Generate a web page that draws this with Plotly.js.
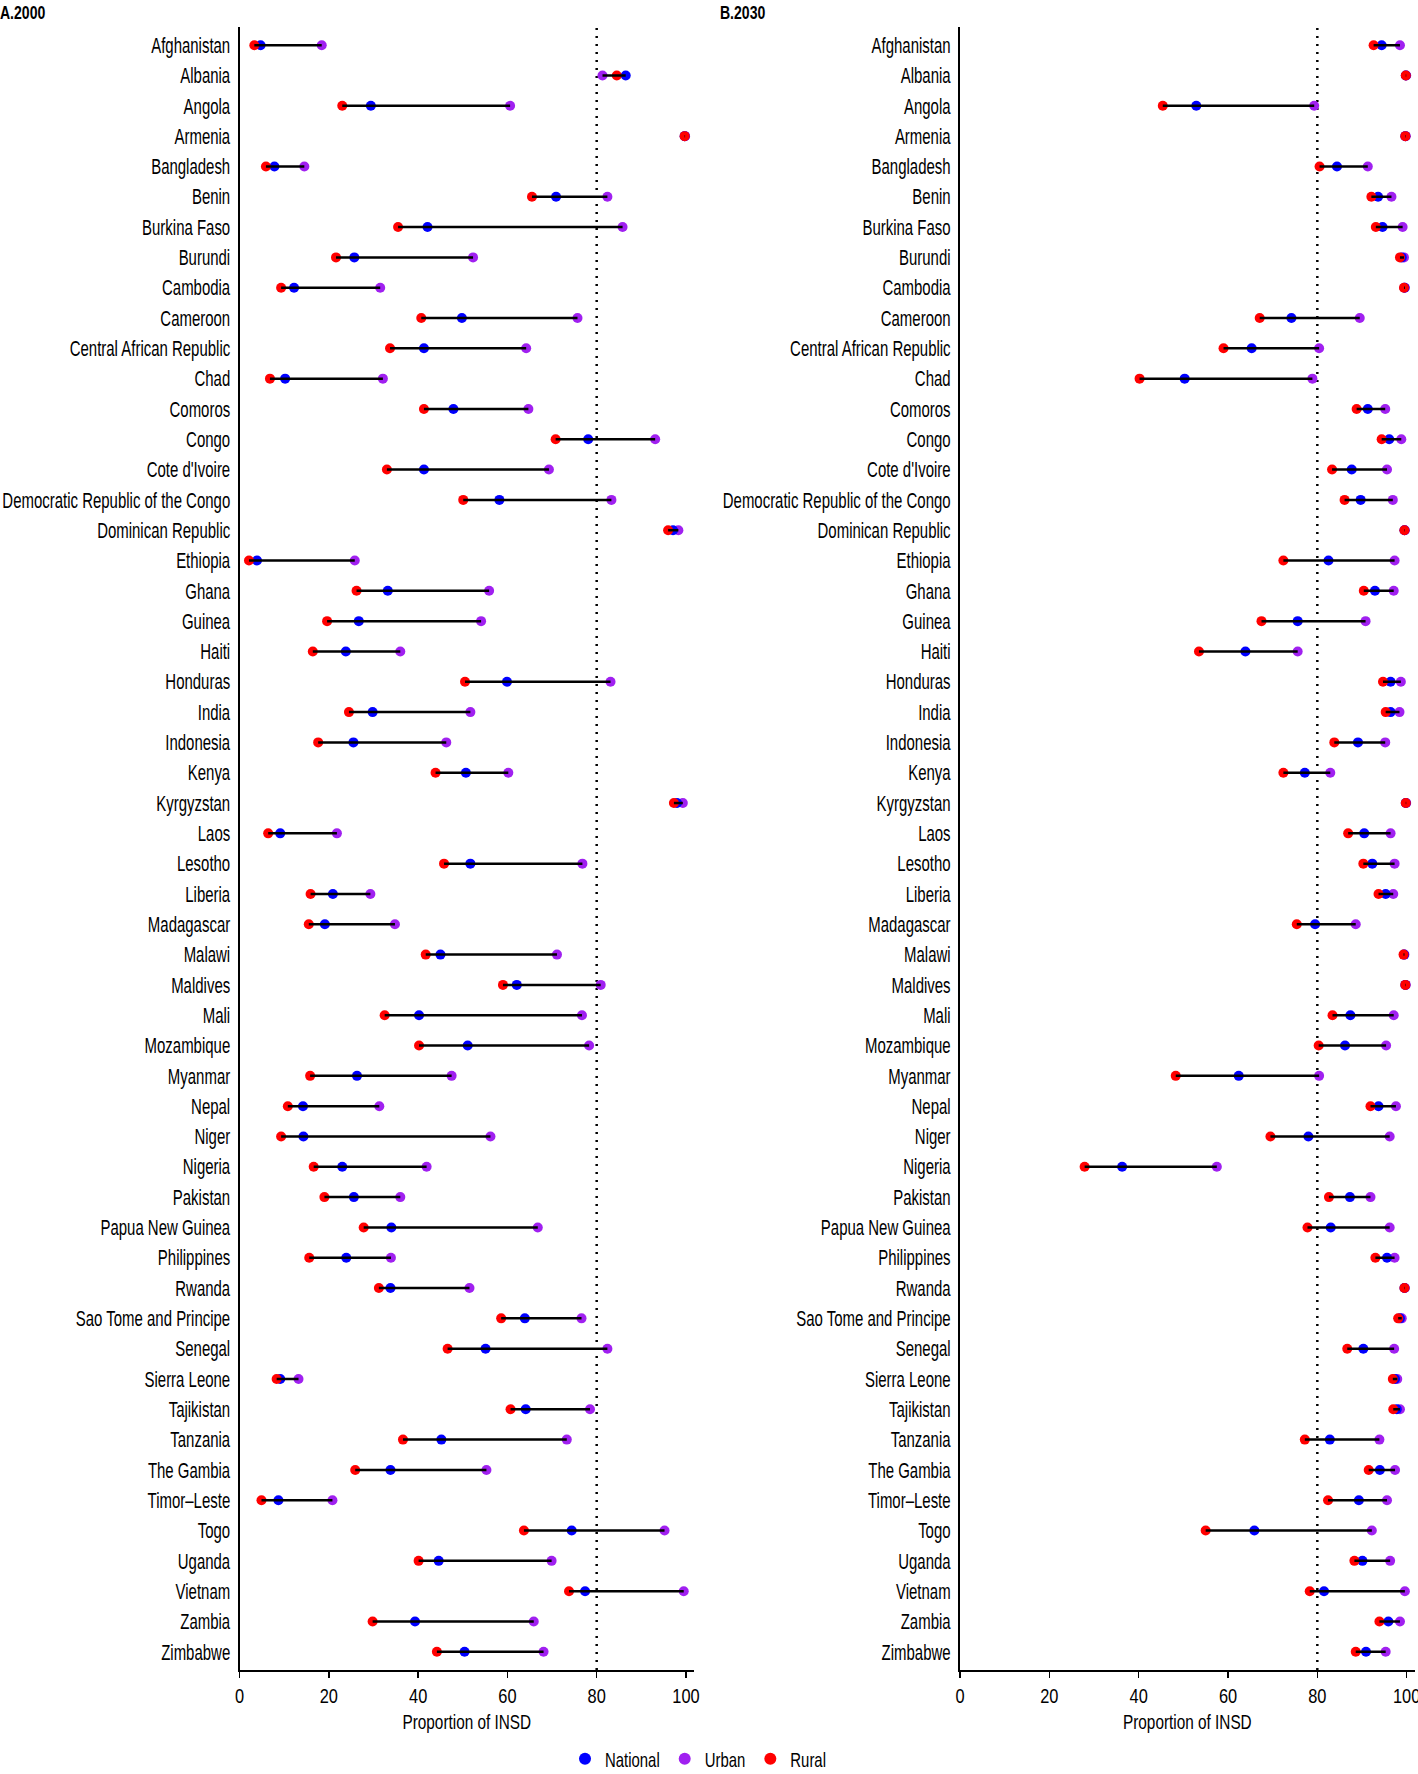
<!DOCTYPE html>
<html>
<head>
<meta charset="utf-8">
<script src="https://cdn.plot.ly/plotly-3.0.1.min.js"></script>
<style>html,body{margin:0;padding:0;background:#fff;}#chart{width:1418px;height:1774px;}</style>
</head>
<body>
<div id="chart"></div>
<script>
const countries = ["Afghanistan","Albania","Angola","Armenia","Bangladesh","Benin","Burkina Faso","Burundi","Cambodia","Cameroon","Central African Republic","Chad","Comoros","Congo","Cote d'Ivoire","Democratic Republic of the Congo","Dominican Republic","Ethiopia","Ghana","Guinea","Haiti","Honduras","India","Indonesia","Kenya","Kyrgyzstan","Laos","Lesotho","Liberia","Madagascar","Malawi","Maldives","Mali","Mozambique","Myanmar","Nepal","Niger","Nigeria","Pakistan","Papua New Guinea","Philippines","Rwanda","Sao Tome and Principe","Senegal","Sierra Leone","Tajikistan","Tanzania","The Gambia","Timor\u2013Leste","Togo","Uganda","Vietnam","Zambia","Zimbabwe"];

const nat2000 = [4.7,86.5,29.4,99.7,7.8,70.9,42.1,25.7,12.2,49.8,41.3,10.2,47.9,78.1,41.3,58.2,97.1,3.9,33.2,26.7,23.8,59.9,29.8,25.5,50.7,98.0,9.1,51.7,20.9,19.1,45.0,62.1,40.2,51.1,26.3,14.2,14.3,23.0,25.6,34.0,23.9,33.8,63.9,55.1,9.1,64.1,45.2,33.8,8.7,74.4,44.6,77.4,39.3,50.4];
const urb2000 = [18.4,81.3,60.6,99.8,14.5,82.4,85.8,52.3,31.5,75.7,64.2,32.1,64.7,93.1,69.3,83.3,98.3,25.8,55.9,54.1,36.0,83.1,51.7,46.3,60.2,99.3,21.8,76.8,29.3,34.8,71.1,80.9,76.7,78.3,47.5,31.3,56.2,41.9,36.0,66.8,33.9,51.5,76.6,82.4,13.2,78.5,73.3,55.3,20.8,95.2,69.9,99.5,65.9,68.1];
const rur2000 = [3.3,84.5,23.0,99.7,5.9,65.5,35.5,21.6,9.3,40.7,33.7,6.8,41.3,70.8,33.0,50.1,96.0,2.1,26.2,19.6,16.4,50.5,24.5,17.6,43.9,97.3,6.4,45.8,15.9,15.5,41.7,59.0,32.5,40.2,15.8,10.8,9.3,16.6,19.0,27.8,15.6,31.2,58.6,46.6,8.3,60.7,36.6,25.9,4.9,63.7,40.1,73.8,29.8,44.2];

const nat2030 = [94.4,99.8,52.9,99.7,84.4,93.6,94.6,98.9,99.5,74.2,65.3,50.3,91.3,96.1,87.7,89.7,99.5,82.5,92.9,75.6,63.9,96.4,96.4,89.1,77.2,99.8,90.5,92.3,95.3,79.5,99.4,99.7,87.4,86.2,62.4,93.7,78.0,36.3,87.3,83.0,95.6,99.5,98.5,90.3,97.4,97.8,82.8,94.0,89.3,65.9,90.1,81.5,95.9,90.9];
const urb2030 = [98.5,99.9,79.3,99.8,91.3,96.6,99.1,99.4,99.6,89.5,80.4,78.9,95.2,98.8,95.6,96.9,99.6,97.3,97.1,90.8,75.6,98.7,98.4,95.2,82.9,99.9,96.4,97.3,97.0,88.6,99.5,99.8,97.1,95.4,80.4,97.6,96.2,57.5,91.9,96.2,97.3,99.6,98.9,97.2,97.9,98.5,93.9,97.4,95.6,92.2,96.3,99.6,98.5,95.3];
const rur2030 = [92.6,99.8,45.4,99.7,80.5,92.1,93.1,98.5,99.4,67.1,59.0,40.2,88.8,94.4,83.3,86.1,99.5,72.4,90.4,67.5,53.5,94.7,95.3,83.8,72.4,99.8,86.9,90.3,93.7,75.4,99.3,99.7,83.4,80.3,48.3,91.9,69.5,27.9,82.6,77.8,93.0,99.5,98.1,86.7,96.9,97.0,77.2,91.5,82.4,55.0,88.3,78.3,93.9,88.6];

const xTicks = [0,20,40,60,80,100];
const target = 80;
const panelTitles = ["A.2000","B.2030"];
const xTitle = "Proportion of INSD";

const FONT = '"Liberation Sans","Helvetica","Arial",sans-serif';
const COL = {national:'#0000FF', urban:'#A020F0', rural:'#FF0000'};

function segs(a,b,c){
  const xs=[], ys=[];
  countries.forEach((cn,i)=>{
    const v=[a[i],b[i],c[i]];
    xs.push(Math.min(...v), Math.max(...v), null);
    ys.push(cn, cn, null);
  });
  return {xs, ys};
}

const traces = [];
function panel(nat, urb, rur, xa, ya, showleg){
  const mk = (name, vals, color) => ({
    type:'scatter', mode:'markers', name:name, x:vals, y:countries,
    xaxis:xa, yaxis:ya, showlegend:showleg, legendgroup:name,
    marker:{color:color, size:10, line:{width:0}}, hoverinfo:'x+y+name'
  });
  traces.push(Object.assign(mk('Urban', urb, COL.urban), {legendrank:2}));
  traces.push(Object.assign(mk('National', nat, COL.national), {legendrank:1}));
  traces.push(Object.assign(mk('Rural', rur, COL.rural), {legendrank:3}));
  const s = segs(nat, urb, rur);
  traces.push({type:'scatter', mode:'lines', x:s.xs, y:s.ys, xaxis:xa, yaxis:ya,
    showlegend:false, line:{color:'#000', width:2.5}, hoverinfo:'skip', connectgaps:false});
}
panel(nat2000, urb2000, rur2000, 'x', 'y', true);
panel(nat2030, urb2030, rur2030, 'x2', 'y2', false);

const W=1418, H=1774;
const xA=[239.6/W, 694/W], xB=[960/W, 1414.7/W];
const yD=[1-1670/H, 1-27/H];

const xaxisBase = {
  range:[0,101.8], tickvals:xTicks, ticktext:xTicks.map(String), ticks:'outside', ticklen:6, tickwidth:1.5,
  tickcolor:'#000', showline:true, linecolor:'#000', linewidth:2, showgrid:false, zeroline:false,
  tickfont:{family:FONT, size:21, color:'#000'}, ticklabeloverflow:'allow',
  title:{text:xTitle, font:{family:FONT, size:21, color:'#000'}, standoff:8},
  fixedrange:true
};
const yaxisBase = {
  type:'category', categoryorder:'array', categoryarray:countries,
  range:[countries.length-1+0.6, -0.6], showline:true, linecolor:'#000', linewidth:2,
  ticks:'', showgrid:false, zeroline:false, ticklabelstandoff:3,
  tickfont:{family:FONT, size:22, color:'#000'}, domain:yD, fixedrange:true
};

const layout = {
  width:W, height:H, margin:{l:0,r:0,t:0,b:0,autoexpand:false},
  paper_bgcolor:'#fff', plot_bgcolor:'#fff',
  font:{family:FONT, color:'#000'},
  xaxis:Object.assign({}, xaxisBase, {domain:xA, anchor:'y'}),
  yaxis:Object.assign({}, yaxisBase, {anchor:'x'}),
  xaxis2:Object.assign({}, xaxisBase, {domain:xB, anchor:'y2'}),
  yaxis2:Object.assign({}, yaxisBase, {anchor:'x2'}),
  shapes:[
    {type:'line', xref:'x', yref:'y domain', x0:target, x1:target, y0:0, y1:1, line:{color:'#000', width:2.5, dash:'2px,6px'}, layer:'below'},
    {type:'line', xref:'x2', yref:'y2 domain', x0:target, x1:target, y0:0, y1:1, line:{color:'#000', width:2.5, dash:'2px,6px'}, layer:'below'}
  ],
  annotations:[
    {text:panelTitles[0], xref:'paper', yref:'paper', x:-10/W, y:1, xanchor:'left', yanchor:'top', showarrow:false, font:{family:FONT, size:19, weight:700, color:'#000'}},
    {text:panelTitles[1], xref:'paper', yref:'paper', x:710/W, y:1, xanchor:'left', yanchor:'top', showarrow:false, font:{family:FONT, size:19, weight:700, color:'#000'}}
  ],
  legend:{orientation:'h', x:565/W, xanchor:'left', y:1-1759/H, yanchor:'middle', font:{family:FONT, size:21, color:'#000'}, itemsizing:'constant', traceorder:'normal', bgcolor:'rgba(0,0,0,0)'},
  showlegend:true
};

function squeeze(root, sel, f){
  root.querySelectorAll(sel).forEach(t=>{
    const L = t.getComputedTextLength();
    if (L > 0) {
      t.setAttribute('textLength', (L*f).toFixed(2));
      t.setAttribute('lengthAdjust','spacingAndGlyphs');
    }
  });
}

Plotly.newPlot('chart', traces, layout, {displayModeBar:false, staticPlot:true}).then(gd=>{
  squeeze(gd, '.ytick text, .y2tick text', 0.68);
  squeeze(gd, '.xtick text, .x2tick text', 0.78);
  squeeze(gd, '.g-xtitle text, .g-x2title text', 0.73);
  squeeze(gd, '.annotation-text', 0.74);
  const items = Array.from(gd.querySelectorAll('.legend .traces'));
  let pos = null;
  items.forEach(it=>{
    const t = it.querySelector('.legendtext');
    const L = t.getComputedTextLength()*0.71;
    t.setAttribute('textLength', L.toFixed(2));
    t.setAttribute('lengthAdjust','spacingAndGlyphs');
    const m = /translate\(\s*([-\d.]+)[ ,]+([-\d.]+)\s*\)/.exec(it.getAttribute('transform')||'');
    const ty = m ? parseFloat(m[2]) : 0;
    if (pos === null) pos = m ? parseFloat(m[1]) : 0;
    it.setAttribute('transform', 'translate(' + pos + ',' + ty + ')');
    pos += 40 + L + 5;
  });
});
</script>
</body>
</html>
